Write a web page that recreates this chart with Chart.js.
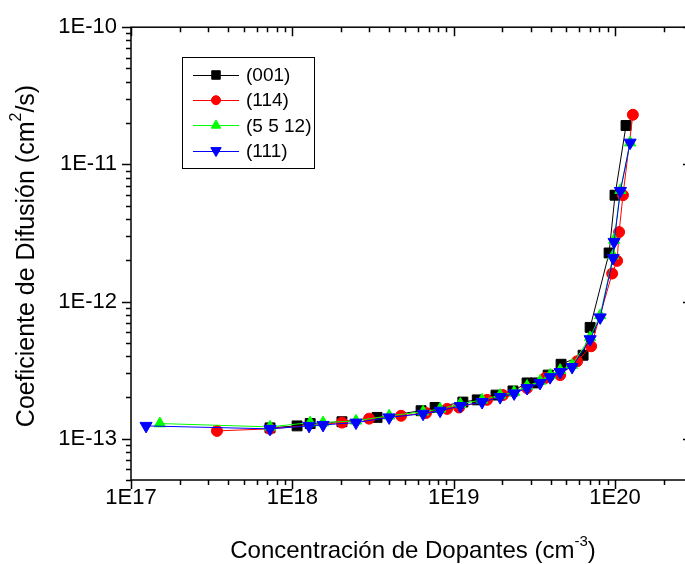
<!DOCTYPE html>
<html lang="es">
<head>
<meta charset="UTF-8" />
<title>Coeficiente de Difusión vs Concentración de Dopantes</title>
<script src="https://cdn.jsdelivr.net/npm/chart.js"></script>
<style>
  html, body { margin: 0; padding: 0; background: #fff; overflow: hidden; }
  #wrap { width: 700px; height: 564px; }
</style>
</head>
<body>
<div id="wrap"><canvas id="difChart" width="700" height="564"></canvas></div>
<script>
  // orientation labels
  const seriesNames = ['(001)', '(114)', '(5 5 12)', '(111)'];

  // concentration (cm^-3) and diffusion coefficient (cm^2/s) per orientation
  const conc001 = [7.27e17, 1.07e18, 1.29e18, 2.03e18, 3.35e18, 6.28e18, 7.67e18, 1.14e19, 1.40e19, 1.83e19,
                   2.33e19, 2.85e19, 3.20e19, 3.85e19, 4.63e19, 6.34e19, 7.01e19, 9.19e19, 1.00e20, 1.17e20];
  const diff001 = [1.20e-13, 1.24e-13, 1.29e-13, 1.33e-13, 1.43e-13, 1.60e-13, 1.69e-13, 1.85e-13, 1.92e-13, 2.08e-13,
                   2.23e-13, 2.55e-13, 2.55e-13, 2.91e-13, 3.49e-13, 4.06e-13, 6.48e-13, 2.26e-12, 5.96e-12, 1.92e-11];

  const conc114 = [3.41e17, 7.27e17, 2.03e18, 2.99e18, 4.72e18, 6.74e18, 9.10e18, 1.08e19, 1.61e19, 2.02e19,
                   2.85e19, 3.69e19, 4.57e19, 5.82e19, 7.11e19, 9.60e19, 1.03e20, 1.06e20, 1.12e20, 1.29e20];
  const diff114 = [1.14e-13, 1.18e-13, 1.31e-13, 1.40e-13, 1.47e-13, 1.54e-13, 1.65e-13, 1.69e-13, 1.92e-13, 2.08e-13,
                   2.34e-13, 2.77e-13, 2.91e-13, 3.67e-13, 4.72e-13, 1.60e-12, 1.98e-12, 3.21e-12, 5.96e-12, 2.30e-11];

  const conc5512 = [1.51e17, 7.27e17, 1.29e18, 1.55e18, 2.48e18, 3.98e18, 6.46e18, 8.24e18, 1.10e19, 1.50e19, 1.94e19, 2.37e19,
                    2.85e19, 3.43e19, 3.96e19, 4.57e19, 5.42e19, 7.01e19, 8.09e19, 9.73e19, 9.87e19, 1.08e20, 1.24e20];
  const diff5512 = [1.29e-13, 1.22e-13, 1.31e-13, 1.31e-13, 1.35e-13, 1.47e-13, 1.57e-13, 1.65e-13, 1.79e-13, 1.92e-13, 2.08e-13, 2.19e-13,
                    2.42e-13, 2.63e-13, 2.91e-13, 3.16e-13, 3.44e-13, 5.48e-13, 7.92e-13, 2.16e-12, 2.81e-12, 6.48e-12, 1.44e-11];

  const conc111 = [1.24e17, 7.27e17, 1.27e18, 1.55e18, 2.48e18, 3.98e18, 6.46e18, 8.24e18, 1.10e19, 1.50e19, 1.94e19, 2.37e19,
                   2.85e19, 3.43e19, 3.96e19, 4.57e19, 5.42e19, 7.01e19, 8.09e19, 9.73e19, 9.87e19, 1.08e20, 1.24e20];
  const diff111 = [1.24e-13, 1.18e-13, 1.24e-13, 1.26e-13, 1.31e-13, 1.43e-13, 1.52e-13, 1.60e-13, 1.73e-13, 1.85e-13, 2.01e-13, 2.14e-13,
                   2.34e-13, 2.55e-13, 2.81e-13, 3.06e-13, 3.33e-13, 5.31e-13, 7.66e-13, 2.08e-12, 2.72e-12, 6.40e-12, 1.44e-11];

  // axis ticks
  const xMajor = [1e17, 1e18, 1e19, 1e20];
  const xTickLabels = ['1E17', '1E18', '1E19', '1E20'];
  const yMajor = [1e-13, 1e-12, 1e-11, 1e-10];
  const yTickLabels = ['1E-13', '1E-12', '1E-11', '1E-10'];

  const FONT = '"Liberation Sans", Arial, sans-serif';

  function pts(xs, ys) {
    return xs.map((x, i) => ({ x: x, y: ys[i] }));
  }

  function makeSet(label, xs, ys, color, style, radius, rotation, order) {
    return {
      label: label,
      data: pts(xs, ys),
      borderColor: color,
      backgroundColor: color,
      borderWidth: 1,
      pointStyle: style,
      pointRadius: radius,
      pointRotation: rotation,
      pointBackgroundColor: color,
      pointBorderColor: color,
      pointBorderWidth: 1,
      tension: 0,
      order: order
    };
  }

  // all log ticks (1..9 per decade) between min and max
  function logTicks(min, max) {
    const major = [], minor = [];
    for (let e = Math.floor(Math.log10(min)); e <= Math.ceil(Math.log10(max)); e++) {
      for (let k = 1; k <= 9; k++) {
        const v = k * Math.pow(10, e);
        if (v < min * 0.999 || v > max * 1.001) continue;
        (k === 1 ? major : minor).push(v);
      }
    }
    return { major, minor };
  }

  // text with a superscript piece: parts = [[text, isSup], ...]
  function richWidth(ctx, parts, size) {
    let w = 0;
    parts.forEach(p => {
      ctx.font = (p[1] ? Math.round(size * 0.62) : size) + 'px ' + FONT;
      w += ctx.measureText(p[0]).width;
    });
    return w;
  }
  function drawRich(ctx, parts, size, x, y) {
    let cx = x;
    parts.forEach(p => {
      ctx.font = (p[1] ? Math.round(size * 0.62) : size) + 'px ' + FONT;
      ctx.fillText(p[0], cx, p[1] ? y - size * 0.4 : y);
      cx += ctx.measureText(p[0]).width;
    });
  }

  const framePlugin = {
    id: 'frame',
    afterDraw(chart) {
      const ctx = chart.ctx;
      const { left, right, top, bottom } = chart.chartArea;
      const xs = chart.scales.x, ys = chart.scales.y;
      ctx.save();
      ctx.strokeStyle = '#000';
      ctx.lineWidth = 1.5;
      ctx.strokeRect(left, top, right - left, bottom - top);

      const xt = logTicks(xs.min, xs.max);
      const yt = logTicks(ys.min, ys.max);
      ctx.beginPath();
      [[xt.major, 9], [xt.minor, 5]].forEach(([vals, len]) => {
        vals.forEach(v => {
          const px = Math.round(xs.getPixelForValue(v)) + 0.5;
          ctx.moveTo(px, bottom); ctx.lineTo(px, bottom + len);
          ctx.moveTo(px, top); ctx.lineTo(px, top + len);
        });
      });
      [[yt.major, 9], [yt.minor, 5]].forEach(([vals, len]) => {
        vals.forEach(v => {
          const py = Math.round(ys.getPixelForValue(v)) + 0.5;
          ctx.moveTo(left, py); ctx.lineTo(left - len, py);
          ctx.moveTo(right, py); ctx.lineTo(right - len, py);
        });
      });
      ctx.stroke();

      // axis titles
      ctx.fillStyle = '#000';
      ctx.textBaseline = 'middle';
      ctx.textAlign = 'left';
      const xTitle = [['Concentración de Dopantes (cm', false], ['-3', true], [')', false]];
      const xw = richWidth(ctx, xTitle, 24);
      drawRich(ctx, xTitle, 24, 413 - xw / 2, 551);

      const yTitle = [['Coeficiente de Difusión (cm', false], ['2', true], ['/s)', false]];
      const yw = richWidth(ctx, yTitle, 25);
      ctx.save();
      ctx.translate(27, 256);
      ctx.rotate(-Math.PI / 2);
      drawRich(ctx, yTitle, 25, -yw / 2, 0);
      ctx.restore();

      // legend
      const lx = 182, ly = 57, lw = 132, lh = 111;
      ctx.fillStyle = '#fff';
      ctx.fillRect(lx, ly, lw, lh);
      ctx.lineWidth = 1;
      ctx.strokeStyle = '#000';
      ctx.strokeRect(lx + 0.5, ly + 0.5, lw, lh);
      chart.data.datasets.forEach((ds, i) => {
        const y = 75 + i * 25.2;
        ctx.strokeStyle = ds.borderColor;
        ctx.lineWidth = 1;
        ctx.beginPath();
        ctx.moveTo(193, Math.round(y) + 0.5);
        ctx.lineTo(239, Math.round(y) + 0.5);
        ctx.stroke();
        ctx.fillStyle = ds.pointBackgroundColor;
        Chart.helpers.drawPoint(ctx, {
          pointStyle: ds.pointStyle,
          radius: ds.pointRadius - 1,
          rotation: ds.pointRotation,
          borderWidth: 1
        }, 216, y);
        ctx.fillStyle = '#000';
        ctx.font = '19px ' + FONT;
        ctx.textBaseline = 'middle';
        ctx.fillText(ds.label, 246, y + 1);
      });
      ctx.restore();
    }
  };

  const ctx = document.getElementById('difChart').getContext('2d');
  new Chart(ctx, {
    type: 'line',
    data: {
      datasets: [
        makeSet(seriesNames[0], conc001, diff001, '#000000', 'rect', 7, 0, 4),
        makeSet(seriesNames[1], conc114, diff114, '#ff0000', 'circle', 5.5, 0, 3),
        makeSet(seriesNames[2], conc5512, diff5512, '#00ff00', 'triangle', 6.5, 0, 2),
        makeSet(seriesNames[3], conc111, diff111, '#0000ff', 'triangle', 7, 180, 1)
      ]
    },
    options: {
      responsive: false,
      animation: false,
      layout: { padding: { top: 25, right: 8, left: 0, bottom: 0 } },
      plugins: { legend: { display: false }, tooltip: { enabled: false } },
      scales: {
        x: {
          type: 'logarithmic',
          min: 1e17,
          max: 3e20,
          grid: { display: false, drawTicks: false },
          border: { display: false },
          afterBuildTicks: s => { s.ticks = xMajor.map(v => ({ value: v })); },
          afterFit: s => { s.height = 84; },
          ticks: {
            color: '#000',
            padding: 5,
            maxRotation: 0,
            autoSkip: false,
            font: { family: FONT, size: 22 },
            callback: (v, i) => xTickLabels[i]
          }
        },
        y: {
          type: 'logarithmic',
          min: 5e-14,
          max: 1e-10,
          grid: { display: false, drawTicks: false },
          border: { display: false },
          afterBuildTicks: s => { s.ticks = yMajor.map(v => ({ value: v })); },
          afterFit: s => { s.width = 131; },
          ticks: {
            color: '#000',
            padding: 14,
            autoSkip: false,
            font: { family: FONT, size: 22 },
            callback: (v, i) => yTickLabels[i]
          }
        }
      }
    },
    plugins: [framePlugin]
  });
</script>
</body>
</html>
